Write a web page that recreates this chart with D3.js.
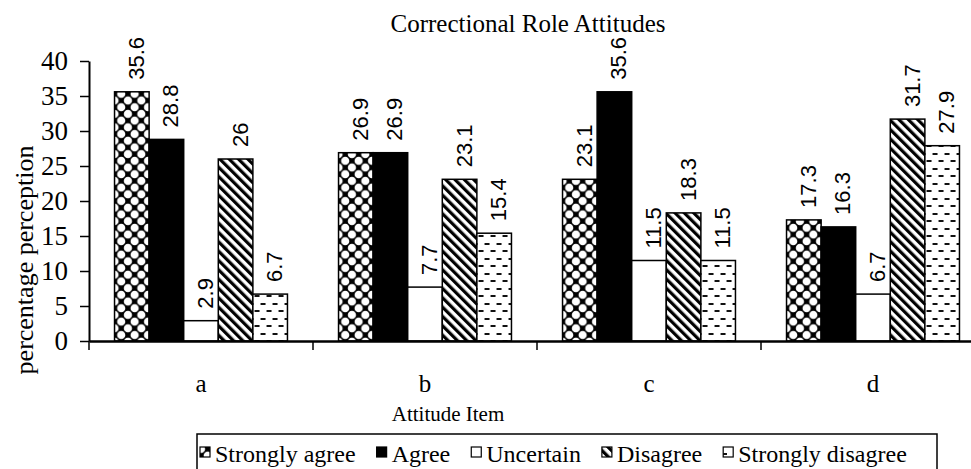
<!DOCTYPE html>
<html>
<head>
<meta charset="utf-8">
<script src="https://cdn.jsdelivr.net/npm/d3@7"></script>
<style>
  body { margin: 0; background: #fff; }
  svg { display: block; }
  .serif { font-family: "Liberation Serif", "Times New Roman", serif; }
  .sans { font-family: "Liberation Sans", Arial, sans-serif; }
</style>
</head>
<body>
<div id="chart"></div>
<script>
(function(){
    var width = 971, height = 469;

    // data
    var categories = ["a", "b", "c", "d"];
    var series = ["Strongly agree", "Agree", "Uncertain", "Disagree", "Strongly disagree"];
    var stronglyAgree    = [35.6, 26.9, 23.1, 17.3];
    var agree            = [28.8, 26.9, 35.6, 16.3];
    var uncertain        = [2.9, 7.7, 11.5, 6.7];
    var disagree         = [26, 23.1, 18.3, 31.7];
    var stronglyDisagree = [6.7, 15.4, 11.5, 27.9];
    var yTicks = [0, 5, 10, 15, 20, 25, 30, 35, 40];

    var values = [stronglyAgree, agree, uncertain, disagree, stronglyDisagree];
    var fills = ["url(#pSA)", "#000", "#fff", "url(#pD)", "url(#pSD)"];

    var svg = d3.select("#chart")
        .append("svg")
        .attr("width", width)
        .attr("height", height);

    // patterns
    var defs = svg.append("defs");

    // black diamonds = white dots on black
    var pSA = defs.append("pattern")
        .attr("id", "pSA")
        .attr("patternUnits", "userSpaceOnUse")
        .attr("width", 13.4).attr("height", 13.4);
    pSA.append("rect").attr("width", 13.4).attr("height", 13.4).attr("fill", "#000");
    [[6.7, 0], [0, 6.7], [13.4, 6.7], [6.7, 13.4]].forEach(function(c){
        pSA.append("circle")
            .attr("cx", c[0]).attr("cy", c[1])
            .attr("r", 4.1)
            .attr("fill", "#fff");
    });

    var pD = defs.append("pattern")
        .attr("id", "pD")
        .attr("patternUnits", "userSpaceOnUse")
        .attr("width", 6.6).attr("height", 6.6)
        .attr("patternTransform", "rotate(-45)");
    pD.append("rect").attr("width", 6.6).attr("height", 6.6).attr("fill", "#fff");
    pD.append("rect").attr("x", 0).attr("width", 3.2).attr("height", 6.6).attr("fill", "#000");

    var pSD = defs.append("pattern")
        .attr("id", "pSD")
        .attr("patternUnits", "userSpaceOnUse")
        .attr("width", 12).attr("height", 15);
    pSD.append("rect").attr("width", 12).attr("height", 15).attr("fill", "#fff");
    pSD.append("rect").attr("x", 2).attr("y", 3).attr("width", 5).attr("height", 2).attr("fill", "#111");
    pSD.append("rect").attr("x", 8).attr("y", 10).attr("width", 5).attr("height", 2).attr("fill", "#111");
    pSD.append("rect").attr("x", -4).attr("y", 10).attr("width", 5).attr("height", 2).attr("fill", "#111");

    // scales
    var x0 = d3.scaleBand()
        .domain(categories)
        .range([89, 985])
        .paddingInner(0.228)
        .paddingOuter(0.114);

    var x1 = d3.scaleBand()
        .domain(series)
        .range([0, x0.bandwidth()]);

    var y = d3.scaleLinear()
        .domain([0, 40])
        .range([341, 61]);

    // bars
    var groups = svg.append("g").selectAll("g")
        .data(categories)
        .enter()
        .append("g")
        .attr("transform", function(d){ return "translate(" + x0(d) + ",0)"; });

    groups.selectAll("rect")
        .data(function(d, i){
            return series.map(function(s, j){ return {s: s, v: values[j][i], j: j}; });
        })
        .enter()
        .append("rect")
        .attr("x", function(d){ return x1(d.s); })
        .attr("y", function(d){ return y(d.v); })
        .attr("width", x1.bandwidth())
        .attr("height", function(d){ return y(0) - y(d.v); })
        .attr("fill", function(d){ return fills[d.j]; })
        .attr("stroke", "#000")
        .attr("stroke-width", 1.5);

    groups.selectAll("text")
        .data(function(d, i){
            return series.map(function(s, j){ return {s: s, v: values[j][i]}; });
        })
        .enter()
        .append("text")
        .attr("class", "sans")
        .attr("font-size", "22px")
        .attr("transform", function(d){
            return "translate(" + (x1(d.s) + x1.bandwidth() / 2 + 12) + "," + (y(d.v) - 12) + ") rotate(-90)";
        })
        .text(function(d){ return d.v; });

    // y axis
    var yAxis = svg.append("g")
        .attr("transform", "translate(89,0)")
        .call(d3.axisLeft(y).tickValues(yTicks).tickSize(9).tickSizeOuter(0).tickPadding(12));
    yAxis.select(".domain").attr("stroke-width", 2);
    yAxis.selectAll(".tick line").attr("stroke-width", 1.5);
    yAxis.selectAll("text")
        .attr("class", "serif")
        .attr("font-size", "27px")
        .attr("fill", "#000");

    // x axis
    var xAxis = svg.append("g")
        .attr("transform", "translate(0,341)")
        .call(d3.axisBottom(x0).tickSize(0).tickPadding(0));
    xAxis.select(".domain").attr("stroke-width", 2.5);
    xAxis.selectAll("text")
        .attr("class", "serif")
        .attr("font-size", "25px")
        .attr("fill", "#000")
        .attr("dy", "51px");

    var x0Bounds = categories.map(function(c){ return x0(c) - x0.step() * x0.paddingOuter(); });
    xAxis.selectAll(".sep")
        .data(x0Bounds)
        .enter()
        .append("line")
        .attr("x1", function(d){ return d; })
        .attr("x2", function(d){ return d; })
        .attr("y1", 0)
        .attr("y2", 9)
        .attr("stroke", "#000")
        .attr("stroke-width", 1.5);

    // titles
    svg.append("text")
        .attr("class", "serif")
        .attr("x", 528).attr("y", 32)
        .attr("text-anchor", "middle")
        .attr("font-size", "25px")
        .text("Correctional Role Attitudes");

    svg.append("text")
        .attr("class", "serif")
        .attr("x", 448).attr("y", 421)
        .attr("text-anchor", "middle")
        .attr("font-size", "21px")
        .text("Attitude Item");

    svg.append("text")
        .attr("class", "serif")
        .attr("transform", "translate(33,260) rotate(-90)")
        .attr("text-anchor", "middle")
        .attr("font-size", "26px")
        .text("percentage perception");

    // legend
    var legend = svg.append("g");
    legend.append("rect")
        .attr("x", 197).attr("y", 434)
        .attr("width", 740).attr("height", 60)
        .attr("fill", "none")
        .attr("stroke", "#000")
        .attr("stroke-width", 1.5);

    var lx = 200;
    series.forEach(function(s, j){
        legend.append("rect")
            .attr("x", lx).attr("y", 447)
            .attr("width", 10).attr("height", 10)
            .attr("fill", fills[j])
            .attr("stroke", "#000")
            .attr("stroke-width", 1.2);
        var t = legend.append("text")
            .attr("class", "serif")
            .attr("x", lx + 15).attr("y", 462)
            .attr("font-size", "24px")
            .text(s);
        lx += 15 + t.node().getComputedTextLength() + 21;
    });
})();
</script>
</body>
</html>
